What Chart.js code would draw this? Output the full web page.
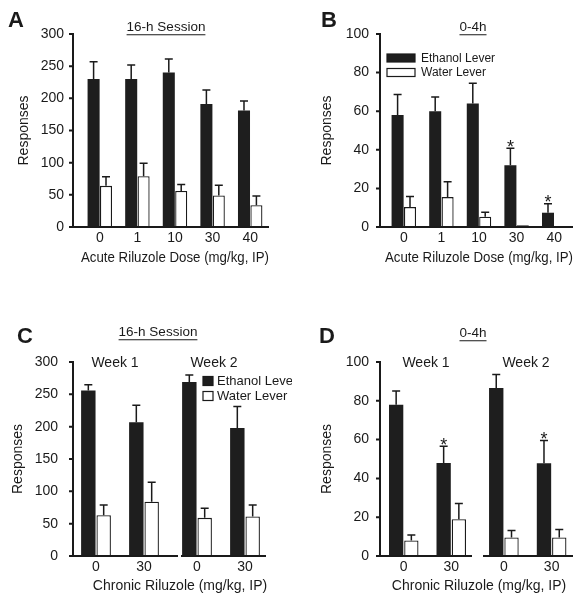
<!DOCTYPE html>
<html>
<head>
<meta charset="utf-8">
<title>Riluzole lever responses</title>
<script src="https://cdn.jsdelivr.net/npm/chart.js@4.4.1/dist/chart.umd.min.js"></script>
<style>
  body { margin: 0; background: #fff; }
  #fig { position: relative; width: 584px; height: 600px; overflow: hidden; background: #fff;
         font-family: "Liberation Sans", Arial, sans-serif; color: #1a1a1a; }
  #fig canvas { position: absolute; }
  .t { position: absolute; transform: translate(-50%, -50%); white-space: nowrap; line-height: 1; }
  .letter { font-weight: bold; font-size: 22px; }
  .head { font-size: 13.5px; text-decoration: underline; text-underline-offset: 3px; }
  .lab { font-size: 14px; }
</style>
</head>
<body>
<div id="fig">
  <canvas id="panelA" width="292" height="300" style="left:0;top:0"></canvas>
  <canvas id="panelB" width="292" height="300" style="left:292px;top:0"></canvas>
  <canvas id="panelC1" width="292" height="300" style="left:0;top:300px"></canvas>
  <canvas id="panelC2" width="292" height="300" style="left:0;top:300px"></canvas>
  <canvas id="panelD1" width="292" height="300" style="left:292px;top:300px"></canvas>
  <canvas id="panelD2" width="292" height="300" style="left:292px;top:300px"></canvas>

  <div class="t letter" style="left:16px;top:20px">A</div>
  <div class="t letter" style="left:329px;top:20px">B</div>
  <div class="t letter" style="left:25px;top:336px">C</div>
  <div class="t letter" style="left:327px;top:336px">D</div>

  <div class="t head" style="left:166px;top:27px">16-h Session</div>
  <div class="t head" style="left:473px;top:27px">0-4h</div>
  <div class="t head" style="left:158px;top:332px">16-h Session</div>
  <div class="t head" style="left:473px;top:333px">0-4h</div>

  <div class="t lab" style="left:115px;top:362px">Week 1</div>
  <div class="t lab" style="left:214px;top:362px">Week 2</div>
  <div class="t lab" style="left:426px;top:362px">Week 1</div>
  <div class="t lab" style="left:526px;top:362px">Week 2</div>

  <div class="t lab" style="left:180px;top:585px">Chronic Riluzole (mg/kg, IP)</div>
  <div class="t lab" style="left:479px;top:585px">Chronic Riluzole (mg/kg, IP)</div>
</div>

<script>
// ---- data (mean and SEM) ----
var acuteDoses = ['0', '1', '10', '30', '40'];
var chronicDoses = ['0', '30'];
var seriesNames = ['Ethanol Lever', 'Water Lever'];

// A: acute riluzole, 16-h session
var acute16hEthanol    = [230, 230, 240, 191, 181];
var acute16hEthanolSem = [27, 22, 21, 22, 15];
var acute16hWater      = [64, 79, 56, 49, 34];
var acute16hWaterSem   = [14, 20, 10, 16, 14];

// B: acute riluzole, 0-4h
var acute4hEthanol     = [58, 60, 64, 32, 7.4];
var acute4hEthanolSem  = [10.6, 7.4, 10.5, 8.8, 4.6];
var acute4hWater       = [10.3, 15.5, 5.3, 0.9, 0.3];
var acute4hWaterSem    = [5.5, 7.9, 2.3, 0, 0];
var acute4hSignificant = [false, false, false, true, true];

// C: chronic riluzole, 16-h session
var chronic16hWk1Ethanol    = [256, 207];
var chronic16hWk1EthanolSem = [9, 26];
var chronic16hWk1Water      = [63, 84];
var chronic16hWk1WaterSem   = [16, 30];
var chronic16hWk2Ethanol    = [269, 198];
var chronic16hWk2EthanolSem = [11, 33];
var chronic16hWk2Water      = [59, 61];
var chronic16hWk2WaterSem   = [15, 18];

// D: chronic riluzole, 0-4h
var chronic4hWk1Ethanol    = [78, 48];
var chronic4hWk1EthanolSem = [7, 8.6];
var chronic4hWk1Water      = [8, 19];
var chronic4hWk1WaterSem   = [2.8, 8];
var chronic4hWk2Ethanol    = [86.6, 47.8];
var chronic4hWk2EthanolSem = [7, 11.8];
var chronic4hWk2Water      = [9.5, 9.5];
var chronic4hWk2WaterSem   = [3.6, 4.1];
var chronic4hSignificant   = [false, true];

var sessionTicks = [0, 50, 100, 150, 200, 250, 300];
var earlyTicks = [0, 20, 40, 60, 80, 100];

// ---- look ----
var INK = '#1a1a1a';
var DARK = '#1e1e1e';
Chart.defaults.font.family = '"Liberation Sans", Arial, sans-serif';
Chart.defaults.font.size = 14;
Chart.defaults.color = INK;
Chart.defaults.animation = false;

// upper SEM whiskers and significance stars
var errorBars = {
  id: 'errorBars',
  afterDatasetsDraw: function (chart) {
    var ctx = chart.ctx, y = chart.scales.y;
    chart.data.datasets.forEach(function (ds, i) {
      chart.getDatasetMeta(i).data.forEach(function (bar, j) {
        var err = ds.errors ? ds.errors[j] : 0;
        var top = y.getPixelForValue(ds.data[j] + err);
        ctx.save();
        ctx.strokeStyle = INK;
        ctx.lineWidth = 1.5;
        if (err > 0) {
          ctx.beginPath();
          ctx.moveTo(bar.x, bar.y);
          ctx.lineTo(bar.x, top);
          ctx.moveTo(bar.x - 4, top);
          ctx.lineTo(bar.x + 4, top);
          ctx.stroke();
        }
        if (ds.sig && ds.sig[j]) {
          ctx.fillStyle = INK;
          ctx.font = '18px "Liberation Sans", Arial, sans-serif';
          ctx.textAlign = 'center';
          ctx.textBaseline = 'alphabetic';
          ctx.fillText('*', bar.x, top + 4.5);
        }
        ctx.restore();
      });
    });
  }
};

// axis lines that may run a little past / short of the plot area, with outward y ticks
var axisLines = {
  id: 'axisLines',
  afterDraw: function (chart, args, opts) {
    var a = chart.chartArea, ctx = chart.ctx, y = chart.scales.y;
    var x0 = a.left - (opts.extLeft || 0), x1 = a.right + (opts.extRight || 0);
    ctx.save();
    ctx.strokeStyle = INK;
    ctx.lineWidth = 2;
    ctx.beginPath();
    ctx.moveTo(x0 - 1, a.bottom);
    ctx.lineTo(x1, a.bottom);
    if (opts.yAxis) {
      ctx.moveTo(x0, a.top - 1);
      ctx.lineTo(x0, a.bottom);
      y.ticks.forEach(function (t) {
        var py = y.getPixelForValue(t.value);
        ctx.moveTo(x0 - 4, py);
        ctx.lineTo(x0, py);
      });
    }
    ctx.stroke();
    ctx.restore();
  }
};

// small legend placed freely on the canvas
var boxLegend = {
  id: 'boxLegend',
  afterDraw: function (chart, args, opts) {
    if (!opts.show) return;
    var ctx = chart.ctx;
    ctx.save();
    chart.data.datasets.forEach(function (ds, i) {
      var cy = opts.y + i * opts.rowGap;
      ctx.fillStyle = ds.backgroundColor;
      ctx.fillRect(opts.x, cy - opts.boxH / 2, opts.boxW, opts.boxH);
      ctx.strokeStyle = INK;
      ctx.lineWidth = 1.2;
      ctx.strokeRect(opts.x, cy - opts.boxH / 2, opts.boxW, opts.boxH);
      ctx.fillStyle = INK;
      ctx.font = opts.fontSize + 'px "Liberation Sans", Arial, sans-serif';
      ctx.textAlign = 'left';
      ctx.textBaseline = 'middle';
      ctx.fillText(ds.label, opts.textX, cy + 0.5);
    });
    ctx.restore();
  }
};

Chart.register(errorBars, axisLines, boxLegend);

function panel(id, p) {
  var W = 292, H = 300, a = p.area;
  var xHeight = p.xTitle ? 40 : 20;
  var ticks = p.yTicks;
  return new Chart(document.getElementById(id), {
    type: 'bar',
    data: {
      labels: p.labels,
      datasets: [
        { label: seriesNames[0], data: p.ethanol, errors: p.ethanolSem, sig: p.sig,
          backgroundColor: DARK, borderColor: DARK, borderWidth: 0 },
        { label: seriesNames[1], data: p.water, errors: p.waterSem,
          backgroundColor: '#ffffff', borderColor: INK, borderWidth: 1.3 }
      ]
    },
    options: {
      responsive: false,
      layout: {
        padding: {
          left: p.showY ? 0 : a.left,
          right: W - a.right,
          top: a.top,
          bottom: H - a.bottom - xHeight
        }
      },
      datasets: { bar: { categoryPercentage: p.catPct, barPercentage: p.barPct } },
      plugins: {
        legend: { display: false },
        tooltip: { enabled: false },
        axisLines: { extLeft: p.extLeft, extRight: p.extRight, yAxis: p.showY },
        boxLegend: p.legend || { show: false }
      },
      scales: {
        x: {
          grid: { display: false, drawTicks: false },
          border: { display: false },
          ticks: { padding: 3, autoSkip: false, maxRotation: 0, font: { size: 14 } },
          title: { display: !!p.xTitle, text: p.xTitle || '', font: { size: 14 }, padding: { top: 0, bottom: 0 } },
          afterFit: function (s) { s.height = xHeight; }
        },
        y: {
          display: p.showY,
          min: ticks[0],
          max: ticks[ticks.length - 1],
          grid: { display: false, drawTicks: false },
          border: { display: false },
          ticks: { stepSize: ticks[1] - ticks[0], padding: p.yTickPad || 0, font: { size: 14 } },
          title: { display: p.showY, text: 'Responses', font: { size: 14 }, padding: { top: p.yTitlePad || 0, bottom: 0 } },
          afterFit: function (s) { s.width = p.showY ? a.left : 0; }
        }
      }
    }
  });
}

// A
panel('panelA', {
  labels: acuteDoses, ethanol: acute16hEthanol, ethanolSem: acute16hEthanolSem,
  water: acute16hWater, waterSem: acute16hWaterSem,
  yTicks: sessionTicks, showY: true, xTitle: 'Acute Riluzole Dose (mg/kg, IP)',
  area: { left: 81, right: 269, top: 34, bottom: 227 },
  extLeft: 8, extRight: 0, yTickPad: 17, yTitlePad: 16,
  catPct: 0.66, barPct: 0.97
});

// B
panel('panelB', {
  labels: acuteDoses, ethanol: acute4hEthanol, ethanolSem: acute4hEthanolSem, sig: acute4hSignificant,
  water: acute4hWater, waterSem: acute4hWaterSem,
  yTicks: earlyTicks, showY: true, xTitle: 'Acute Riluzole Dose (mg/kg, IP)',
  area: { left: 93, right: 281, top: 34, bottom: 227 },
  extLeft: 5, extRight: 0, yTickPad: 16, yTitlePad: 26.6,
  catPct: 0.66, barPct: 0.97,
  legend: { show: true, x: 95, y: 58, boxW: 28, boxH: 8, rowGap: 14.5, textX: 129, fontSize: 12 }
});

// C, week 1 and week 2
panel('panelC1', {
  labels: chronicDoses, ethanol: chronic16hWk1Ethanol, ethanolSem: chronic16hWk1EthanolSem,
  water: chronic16hWk1Water, waterSem: chronic16hWk1WaterSem,
  yTicks: sessionTicks, showY: true,
  area: { left: 72, right: 168, top: 62, bottom: 256 },
  extLeft: -1, extRight: 10, yTickPad: 14, yTitlePad: 10,
  catPct: 0.64, barPct: 0.94
});
panel('panelC2', {
  labels: chronicDoses, ethanol: chronic16hWk2Ethanol, ethanolSem: chronic16hWk2EthanolSem,
  water: chronic16hWk2Water, waterSem: chronic16hWk2WaterSem,
  yTicks: sessionTicks, showY: false,
  area: { left: 173, right: 269, top: 62, bottom: 256 },
  extLeft: -9, extRight: -3,
  catPct: 0.64, barPct: 0.94,
  legend: { show: true, x: 203, y: 81, boxW: 10, boxH: 9, rowGap: 15, textX: 217, fontSize: 13 }
});

// D, week 1 and week 2
panel('panelD1', {
  labels: chronicDoses, ethanol: chronic4hWk1Ethanol, ethanolSem: chronic4hWk1EthanolSem, sig: chronic4hSignificant,
  water: chronic4hWk1Water, waterSem: chronic4hWk1WaterSem,
  yTicks: earlyTicks, showY: true,
  area: { left: 88, right: 183, top: 62, bottom: 256 },
  extLeft: 0, extRight: -3, yTickPad: 11, yTitlePad: 26.6,
  catPct: 0.64, barPct: 0.94
});
panel('panelD2', {
  labels: chronicDoses, ethanol: chronic4hWk2Ethanol, ethanolSem: chronic4hWk2EthanolSem, sig: chronic4hSignificant,
  water: chronic4hWk2Water, waterSem: chronic4hWk2WaterSem,
  yTicks: earlyTicks, showY: false,
  area: { left: 188, right: 283.5, top: 62, bottom: 256 },
  extLeft: -4, extRight: -2.5,
  catPct: 0.64, barPct: 0.94
});
</script>
</body>
</html>
